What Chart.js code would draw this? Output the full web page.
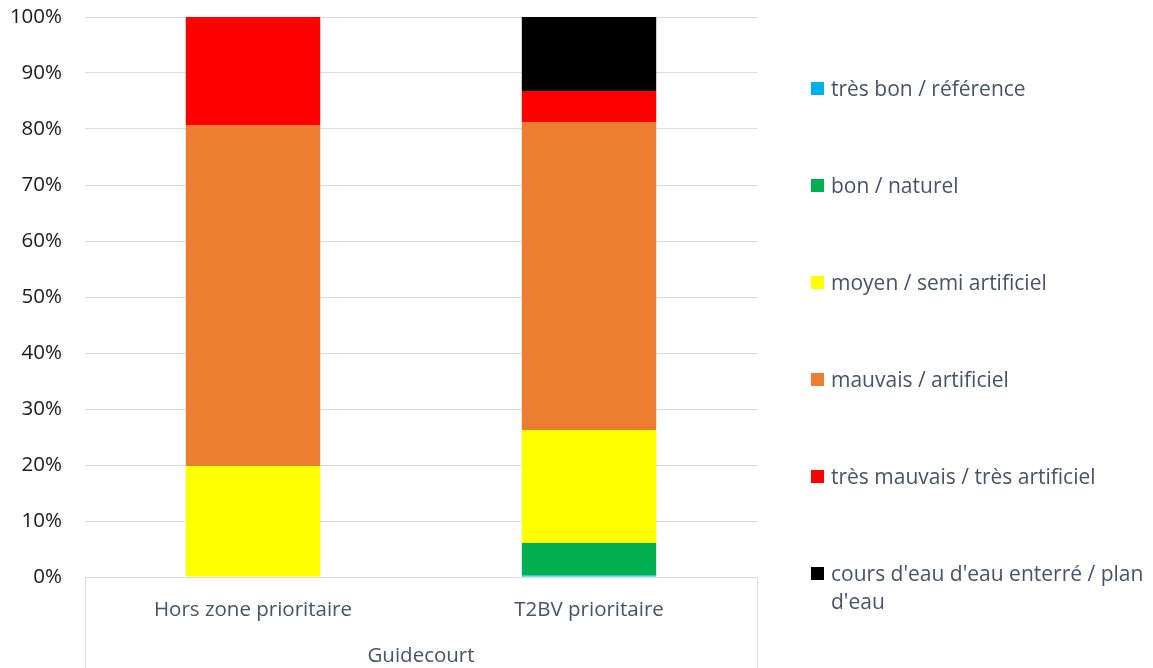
<!DOCTYPE html>
<html>
<head>
<meta charset="utf-8">
<script src="https://cdn.jsdelivr.net/npm/chart.js@4.4.1/dist/chart.umd.min.js"></script>
<style>
  html, body { margin: 0; padding: 0; background: #fff; }
  #wrap { position: relative; width: 1153px; height: 668px; }
  #c { position: absolute; left: 0; top: 0; }
  #legend { position: absolute; left: 811px; top: 0px; width: 340px; height: 668px;
            font-family: "Open Sans", "Noto Sans", sans-serif; font-size: 21px; color: #44546a; }
  .item { position: absolute; left: 0; display: flex; align-items: flex-start; line-height: 28px; }
  .sw { width: 13px; height: 13px; margin-top: 7.5px; margin-right: 7px; flex: none; }
  .txt { width: 322px; }
</style>
</head>
<body>
<div id="wrap">
  <canvas id="c" width="1153" height="668"></canvas>
  <div id="legend"></div>
</div>
<script>
const categories = ["Hors zone prioritaire", "T2BV prioritaire"];
const groupLabel = "Guidecourt";
const seriesNames = [
  "très bon / référence",
  "bon / naturel",
  "moyen / semi artificiel",
  "mauvais / artificiel",
  "très mauvais / très artificiel",
  "cours d'eau d'eau enterré / plan d'eau"
];
const tresBon   = [0, 0.25];
const bon       = [0, 5.8];
const moyen     = [19.8, 20.2];
const mauvais   = [60.9, 55.0];
const tresMauv  = [19.3, 5.55];
const enterre   = [0, 13.2];
const seriesColors = ["#00b0f0", "#00b050", "#ffff00", "#ed7d31", "#ff0000", "#000000"];
const yTicks = [0, 10, 20, 30, 40, 50, 60, 70, 80, 90, 100];

const seriesValues = [tresBon, bon, moyen, mauvais, tresMauv, enterre];

const edgeLines = {
  id: 'edgeLines',
  afterDraw(chart) {
    const { ctx, chartArea } = chart;
    ctx.save();
    ctx.strokeStyle = '#d9dce1';
    ctx.lineWidth = 1;
    ctx.beginPath();
    [chartArea.left, chartArea.right].forEach(x => {
      const xx = Math.round(x) + 0.5;
      ctx.moveTo(xx, chartArea.bottom);
      ctx.lineTo(xx, chart.height);
    });
    ctx.stroke();
    ctx.restore();
  }
};

const chart = new Chart(document.getElementById('c'), {
  type: 'bar',
  data: {
    labels: categories,
    datasets: seriesNames.map((name, i) => ({
      label: name,
      data: seriesValues[i],
      backgroundColor: seriesColors[i],
      borderWidth: 0,
      barPercentage: 0.4,
      categoryPercentage: 1.0
    }))
  },
  options: {
    responsive: false,
    animation: false,
    layout: { padding: { left: 0, top: 17, right: 396, bottom: 0 } },
    plugins: {
      legend: { display: false },
      tooltip: { enabled: false }
    },
    scales: {
      x: {
        stacked: true,
        grid: { display: false },
        border: { display: true, color: '#d9dce1' },
        ticks: {
          color: '#44546a',
          font: { family: '"Open Sans", "Noto Sans", sans-serif', size: 20.5 },
          padding: 13,
          maxRotation: 0
        },
        title: {
          display: true,
          text: groupLabel,
          color: '#44546a',
          font: { family: '"Open Sans", "Noto Sans", sans-serif', size: 20.5 },
          padding: { top: 11, bottom: 0 }
        },
        afterFit(scale) { scale.height = 91; }
      },
      y: {
        stacked: true,
        min: 0,
        max: 100,
        afterBuildTicks(scale) { scale.ticks = yTicks.map(v => ({ value: v })); },
        grid: { color: '#d9dce1', drawTicks: false },
        border: { display: false },
        ticks: {
          color: '#1a1a1a',
          font: { family: '"Open Sans", "Noto Sans", sans-serif', size: 20.5 },
          padding: 23,
          callback: v => v + '%'
        },
        afterFit(scale) {
          scale.width = 85;
          scale.paddingTop = 0;
          scale.paddingBottom = 0;
        }
      }
    }
  },
  plugins: [edgeLines]
});

// HTML legend built from chart datasets
const legendEl = document.getElementById('legend');
const items = chart.options.plugins.legend.labels.generateLabels(chart);
items.forEach((it, i) => {
  const d = document.createElement('div');
  d.className = 'item';
  d.style.top = (88 - 14 + i * 97) + 'px';
  const sw = document.createElement('span');
  sw.className = 'sw';
  sw.style.background = it.fillStyle;
  const t = document.createElement('span');
  t.className = 'txt';
  t.textContent = it.text;
  d.appendChild(sw); d.appendChild(t);
  legendEl.appendChild(d);
});
</script>
</body>
</html>
